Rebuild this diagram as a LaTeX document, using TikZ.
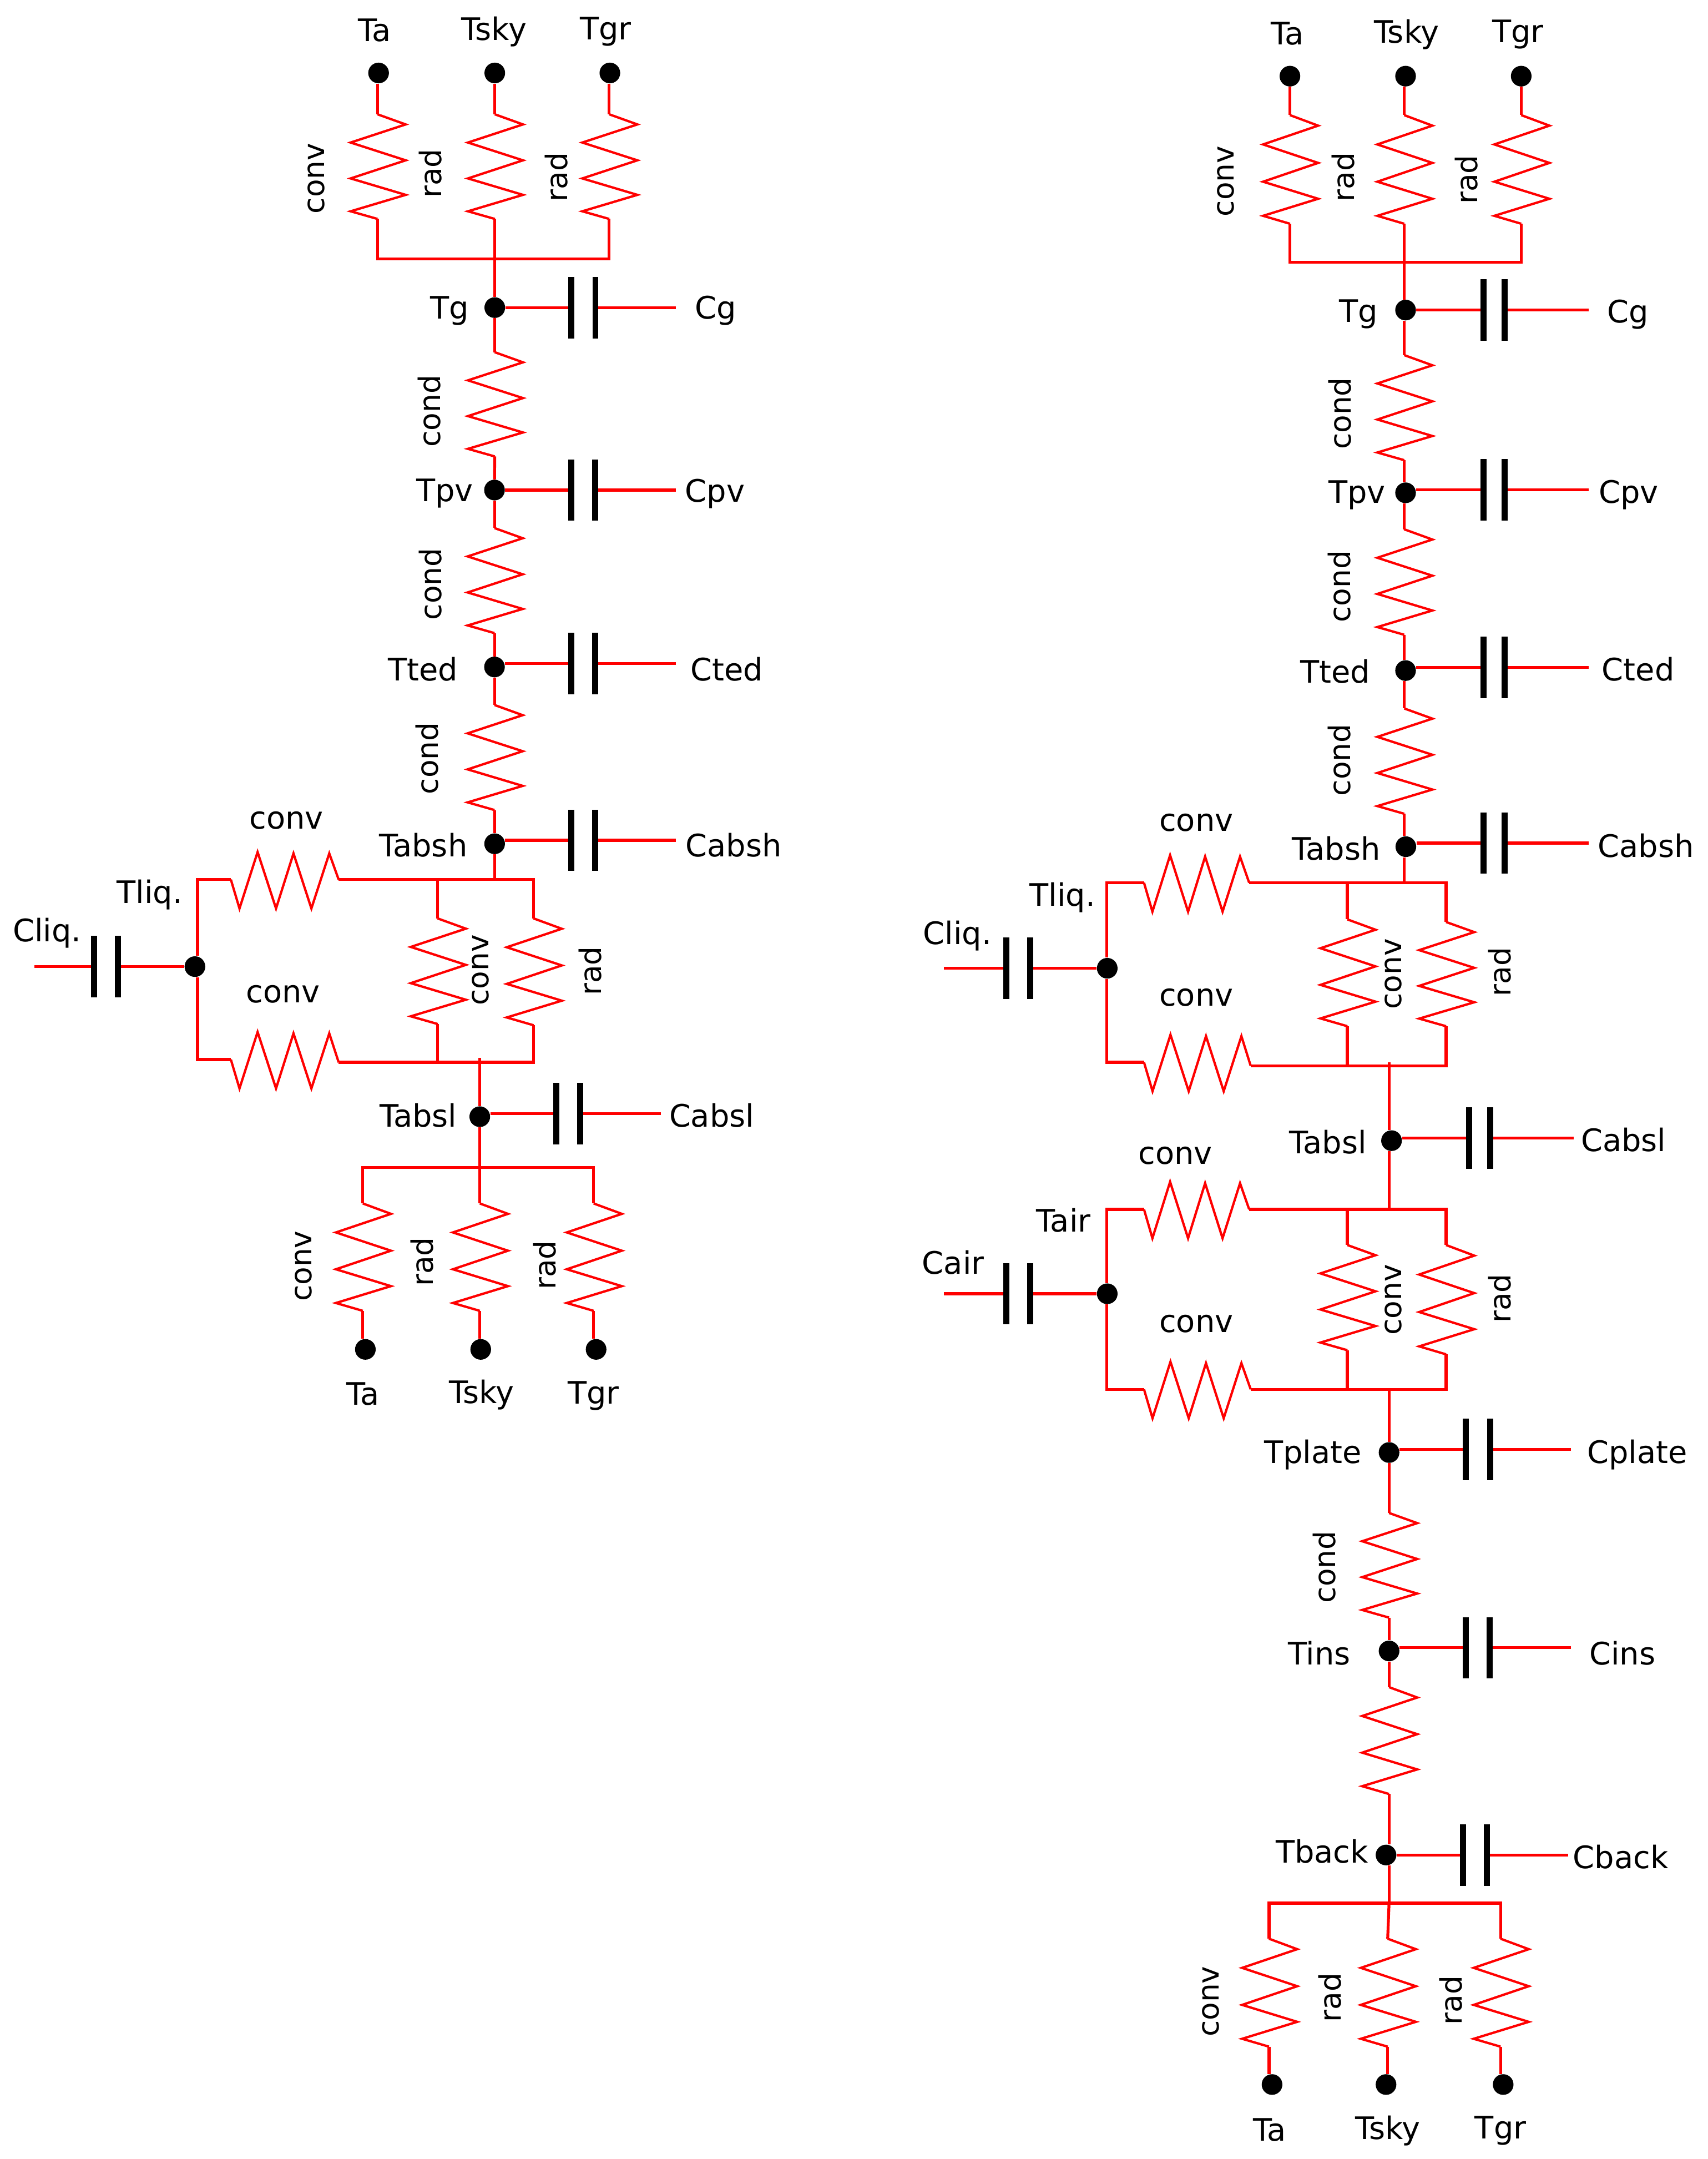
\documentclass[tikz,border=0pt]{standalone}
\usepackage{fontspec}
\setmainfont{DejaVu Sans}
\usetikzlibrary{calc}
\definecolor{wirered}{RGB}{255,0,0}
\tikzset{
  wire/.style={draw=wirered,line width=2.1pt,line join=miter},
  zig/.style={draw=wirered,line width=1.7pt,line join=miter},
  plate/.style={draw=black,line width=4.4pt},
  dot/.style={circle,fill=black,inner sep=0pt,minimum size=15pt},
  lab/.style={inner sep=0pt,outer sep=0pt,font=\fontsize{22.5}{24}\selectfont,text=black},
  vlab/.style={inner sep=0pt,outer sep=0pt,font=\fontsize{21.5}{24}\selectfont,text=black,rotate=90}
}
% vertical resistor: name, x, y top, y bottom
\newcommand{\resv}[4]{%
  \coordinate (#1-a) at (#2,#3);
  \coordinate (#1-b) at (#2,#4);
  \draw[zig] (#1-a)
    -- ({#2+20.5},{#3+.097*(#4-#3)})
    -- ({#2-19.5},{#3+.27*(#4-#3)})
    -- ({#2+20.5},{#3+.44*(#4-#3)})
    -- ({#2-19.5},{#3+.613*(#4-#3)})
    -- ({#2+20.5},{#3+.77*(#4-#3)})
    -- ({#2-19.5},{#3+.927*(#4-#3)})
    -- (#1-b);}
% horizontal resistor: name, x start, x end, y start, y end
\newcommand{\resh}[5]{%
  \coordinate (#1-a) at (#2,#4);
  \coordinate (#1-b) at (#3,#5);
  \draw[zig] (#1-a)
    -- ({#2+.08*(#3-#2)},{#4+21})
    -- ({#2+.248*(#3-#2)},{#4-20})
    -- ({#2+.419*(#3-#2)},{#4+21})
    -- ({#2+.581*(#3-#2)},{#4-19})
    -- ({#2+.747*(#3-#2)},{#4+21})
    -- ({#2+.913*(#3-#2)},{#4-19})
    -- (#1-b);}
% capacitor: name, dot anchor, near plate x, far plate x, wire y, free end x
\newcommand{\capac}[6]{%
  \coordinate (#1-n) at (#3,#5);
  \coordinate (#1-f) at (#4,#5);
  \coordinate (#1-e) at (#6,#5);
  \draw[wire] (#2 |- #1-n) -- (#1-n);
  \draw[wire] (#1-f) -- (#1-e);
  \draw[plate] (#3,{#5-22.3}) -- (#3,{#5+22.3});
  \draw[plate] (#4,{#5-22.3}) -- (#4,{#5+22.3});}
\begin{document}
\begin{tikzpicture}[x=1pt,y=-1pt]
\useasboundingbox (0,0) rectangle (1240.3,1568);
\fill[white] (0,0) rectangle (1240.3,1568);

%%%%%%%%%%%%%% LEFT COLUMN
\foreach \n/\x/\y in {lTa/275/53,lTsky/359.4/53,lTgr/443/53,lTg/359.4/223.4,lTpv/359.2/355.9,lTted/359.2/484.4,lTabsh/359.3/612.8,lTliq/141.6/702,lTabsl/348.5/811,lBa/265.4/980,lBsky/349.2/980,lBgr/433/980}
  \node[dot] (\n) at (\x,\y) {};

\resv{lr1}{274.2}{83}{159}
\resv{lr2}{359.4}{83}{159}
\resv{lr3}{442.5}{83}{159}
\resv{lr4}{359.4}{255.8}{331.5}
\resv{lr5}{359.2}{383.5}{459.8}
\resv{lr6}{359.2}{512}{588.3}
\resv{lr7}{317.9}{667}{743.7}
\resv{lr8}{387.6}{667}{744.6}
\resv{lr9}{263.5}{874}{952}
\resv{lr10}{348.5}{874}{952}
\resv{lr11}{431.2}{874}{952}
\resh{lh1}{167.7}{246}{638.8}{638.8}
\resh{lh2}{167.7}{246}{769.5}{771.5}

\coordinate (lb1) at (359.4,188);
\coordinate (lb2) at (359.3,638.8);
\coordinate (lb3) at (387.6,638.8);
\coordinate (lc1) at (143.5,638.8);
\coordinate (lc2) at (143.5,769.5);
\coordinate (lb4) at (317.9,638.8);
\coordinate (lb5) at (317.9,771.5);
\coordinate (lb6) at (387.6,771.5);
\coordinate (ls1) at (348.5,768.4);
\coordinate (lb7) at (348.5,848);

\draw[wire] (lr1-a |- lTa.south) -- (lr1-a);
\draw[wire] (lr2-a |- lTsky.south) -- (lr2-a);
\draw[wire] (lr3-a |- lTgr.south) -- (lr3-a);
\draw[wire] (lr1-b) |- (lb1) -| (lr3-b);
\draw[wire] (lr2-b) -- (lTg.north);
\draw[wire] (lTg.south) -- (lr4-a);
\draw[wire] (lr4-b) -- (lTpv.north);
\draw[wire] (lTpv.south) -- (lr5-a);
\draw[wire] (lr5-b) -- (lTted.north);
\draw[wire] (lTted.south) -- (lr6-a);
\draw[wire] (lr6-b) -- (lTabsh.north);
\draw[wire] (lTabsh.south) -- (lb2);
\draw[wire] (lh1-b) -- (lb3) -- (lr8-a);
\draw[wire] (lb4) -- (lr7-a);
\draw[wire] (lr7-b) -- (lb5);
\draw[wire] (lr8-b) -- (lb6) -- (lh2-b);
\draw[wire] (lh1-a) -- (lc1) -- (lc1 |- lTliq.north);
\draw[wire] (lc2 |- lTliq.south) -- (lc2) -- (lh2-a);
\draw[wire] (ls1) -- (lTabsl.north);
\draw[wire] (lTabsl.south) -- (lb7);
\draw[wire] (lr9-a) |- (lb7) -| (lr11-a);
\draw[wire] (lb7) -- (lr10-a);
\draw[wire] (lr9-b) -- (lr9-b |- lBa.north);
\draw[wire] (lr10-b) -- (lr10-b |- lBsky.north);
\draw[wire] (lr11-b) -- (lr11-b |- lBgr.north);

\capac{lc-g}{lTg.east}{415}{432.5}{223.4}{491}
\capac{lc-pv}{lTpv.east}{415}{432.2}{355.9}{491}
\capac{lc-ted}{lTted.east}{415}{432.2}{482}{491}
\capac{lc-absh}{lTabsh.east}{415}{432.2}{610.3}{491}
\capac{lc-absl}{lTabsl.east}{404}{421.5}{808.8}{480}
\capac{lc-liq}{lTliq.west}{85.7}{68.2}{702}{25}

\node[lab] (ltTa) at (272,22) {Ta};
\node[lab] (ltTsky) at (359,23) {Tsky};
\node[lab] (ltTgr) at (440,23) {Tgr};
\node[vlab] (ltc1) at (229.7,129.6) {conv};
\node[vlab] (ltr1) at (312.6,126) {rad};
\node[vlab] (ltr2) at (404,128.5) {rad};
\node[lab] (ltTg) at (326.5,225.7) {Tg};
\node[lab] (ltCg) at (520,225.7) {Cg};
\node[vlab] (ltd1) at (312,298.6) {cond};
\node[lab] (ltTpv) at (323,358.4) {Tpv};
\node[lab] (ltCpv) at (519.4,358.4) {Cpv};
\node[vlab] (ltd2) at (312.7,424.2) {cond};
\node[lab] (ltTted) at (307.2,485.9) {Tted};
\node[lab] (ltCted) at (528,485.9) {Cted};
\node[vlab] (ltd3) at (310.3,550.7) {cond};
\node[lab] (ltTabsh) at (307.5,613.6) {Tabsh};
\node[lab] (ltCabsh) at (533,613.6) {Cabsh};
\node[lab] (ltc2) at (208,595.7) {conv};
\node[lab] (ltTliq) at (108.8,649.7) {Tliq.};
\node[lab] (ltCliq) at (34.3,677.8) {Cliq.};
\node[lab] (ltc3) at (205.7,722) {conv};
\node[vlab] (ltc4) at (349.2,704.6) {conv};
\node[vlab] (ltr3) at (428.6,705.2) {rad};
\node[lab] (ltTabsl) at (303.8,810) {Tabsl};
\node[lab] (ltCabsl) at (517,810) {Cabsl};
\node[vlab] (ltc5) at (220.6,919.5) {conv};
\node[vlab] (ltr4) at (306.4,916.4) {rad};
\node[vlab] (ltr5) at (395.8,918.8) {rad};
\node[lab] (ltBa) at (263.5,1012.3) {Ta};
\node[lab] (ltBsky) at (350,1013) {Tsky};
\node[lab] (ltBgr) at (431,1013.8) {Tgr};

%%%%%%%%%%%%%% RIGHT COLUMN
\foreach \n/\x/\y in {rTa/937/55.3,rTsky/1021/55.3,rTgr/1105/55.3,rTg/1021/225.2,rTpv/1021/357.9,rTted/1021/487,rTabsh/1021.2/614.9,rTliq/804.3/703.2,rTabsl/1010.8/828.4,rTair/804.3/939.6,rTplate/1009/1054.9,rTins/1009/1199,rTback/1006.8/1347.2,rBa/924/1513.9,rBsky/1006.8/1513.9,rBgr/1091.9/1513.9}
  \node[dot] (\n) at (\x,\y) {};

\resv{rr1}{937}{83.6}{162.5}
\resv{rr2}{1020}{83.6}{162.5}
\resv{rr3}{1105}{83.6}{162.5}
\resv{rr4}{1020}{257.9}{334.2}
\resv{rr5}{1020}{384.4}{461}
\resv{rr6}{1020}{514.5}{591}
\resv{rr7}{978.7}{667.7}{745.3}
\resv{rr8}{1050.4}{669.6}{745.3}
\resv{rr9}{978.7}{904.2}{980.6}
\resv{rr10}{1050.4}{904.2}{983.6}
\resv{rr11}{1009}{1098.8}{1174.8}
\resv{rr12}{1009}{1225.3}{1302.9}
\resv{rr13}{921.8}{1408}{1486.4}
\resv{rr14}{1008}{1408}{1486.4}
\resv{rr15}{1090}{1408}{1486.4}
\resh{rh1}{831}{907.4}{641.1}{641.1}
\resh{rh2}{831}{908.5}{771.5}{774.1}
\resh{rh3}{831}{907.4}{878.3}{878.3}
\resh{rh4}{831}{908.5}{1009}{1009}

\coordinate (rb1) at (1020,190.3);
\coordinate (rb2) at (1020,641.1);
\coordinate (rb3) at (1050.4,641.1);
\coordinate (rb4) at (978.7,641.1);
\coordinate (rb5) at (978.7,774.1);
\coordinate (rb6) at (1050.4,774.1);
\coordinate (rc1) at (804,641.1);
\coordinate (rc2) at (804,771.5);
\coordinate (rs1) at (1009,771.5);
\coordinate (rs2) at (1009,878.3);
\coordinate (rb7) at (1050.4,878.3);
\coordinate (rb8) at (978.7,878.3);
\coordinate (rb9) at (978.7,1009);
\coordinate (rb10) at (1050.4,1009);
\coordinate (rc3) at (804,878.3);
\coordinate (rc4) at (804,1009);
\coordinate (rs3) at (1009,1009);
\coordinate (rs4) at (1009,1382.2);

\draw[wire] (rr1-a |- rTa.south) -- (rr1-a);
\draw[wire] (rr2-a |- rTsky.south) -- (rr2-a);
\draw[wire] (rr3-a |- rTgr.south) -- (rr3-a);
\draw[wire] (rr1-b) |- (rb1) -| (rr3-b);
\draw[wire] (rr2-b) -- (rr2-b |- rTg.north);
\draw[wire] (rr4-a |- rTg.south) -- (rr4-a);
\draw[wire] (rr4-b) -- (rr4-b |- rTpv.north);
\draw[wire] (rr5-a |- rTpv.south) -- (rr5-a);
\draw[wire] (rr5-b) -- (rr5-b |- rTted.north);
\draw[wire] (rr6-a |- rTted.south) -- (rr6-a);
\draw[wire] (rr6-b) -- (rr6-b |- rTabsh.north);
\draw[wire] (rb2 |- rTabsh.south) -- (rb2);
\draw[wire] (rh1-b) -- (rb3) -- (rr8-a);
\draw[wire] (rb4) -- (rr7-a);
\draw[wire] (rr7-b) -- (rb5);
\draw[wire] (rr8-b) -- (rb6) -- (rh2-b);
\draw[wire] (rh1-a) -- (rc1) -- (rc1 |- rTliq.north);
\draw[wire] (rc2 |- rTliq.south) -- (rc2) -- (rh2-a);
\draw[wire] (rs1) -- (rs1 |- rTabsl.north);
\draw[wire] (rs1 |- rTabsl.south) -- (rs2);
\draw[wire] (rh3-b) -- (rb7) -- (rr10-a);
\draw[wire] (rb8) -- (rr9-a);
\draw[wire] (rr9-b) -- (rb9);
\draw[wire] (rr10-b) -- (rb10) -- (rh4-b);
\draw[wire] (rh3-a) -- (rc3) -- (rc3 |- rTair.north);
\draw[wire] (rc4 |- rTair.south) -- (rc4) -- (rh4-a);
\draw[wire] (rs3) -- (rTplate.north);
\draw[wire] (rTplate.south) -- (rr11-a);
\draw[wire] (rr11-b) -- (rTins.north);
\draw[wire] (rTins.south) -- (rr12-a);
\draw[wire] (rr12-b) -- (rr12-b |- rTback.north);
\draw[wire] (rs4 |- rTback.south) -- (rs4);
\draw[wire] (rr13-a) |- (rs4) -| (rr15-a);
\draw[wire] (rs4) -- (rr14-a);
\draw[wire] (rr13-b) -- (rr13-b |- rBa.north);
\draw[wire] (rr14-b) -- (rr14-b |- rBsky.north);
\draw[wire] (rr15-b) -- (rr15-b |- rBgr.north);

\capac{rc-g}{rTg.east}{1077.8}{1093}{225.2}{1154}
\capac{rc-pv}{rTpv.east}{1077.8}{1093}{355.8}{1154}
\capac{rc-ted}{rTted.east}{1077.8}{1093}{484.8}{1154}
\capac{rc-absh}{rTabsh.east}{1077.8}{1093}{612.3}{1154}
\capac{rc-absl}{rTabsl.east}{1067}{1082.5}{826.6}{1143}
\capac{rc-plate}{rTplate.east}{1064.8}{1082.5}{1052.7}{1141.2}
\capac{rc-ins}{rTins.east}{1064.7}{1082.2}{1196.7}{1141.2}
\capac{rc-back}{rTback.east}{1062.8}{1080}{1347.2}{1139}
\capac{rc-liq}{rTliq.west}{748.2}{730.8}{703.2}{685.7}
\capac{rc-air}{rTair.west}{748.2}{730.8}{939.6}{685.7}

\node[lab] (rtTa) at (935,24.4) {Ta};
\node[lab] (rtTsky) at (1021.7,25) {Tsky};
\node[lab] (rtTgr) at (1102.6,25) {Tgr};
\node[vlab] (rtc1) at (890.4,131.6) {conv};
\node[vlab] (rtr1) at (975.8,128.6) {rad};
\node[vlab] (rtr2) at (1065,130.4) {rad};
\node[lab] (rtTg) at (987,228.3) {Tg};
\node[lab] (rtCg) at (1182.5,228.3) {Cg};
\node[vlab] (rtd1) at (973.3,300.3) {cond};
\node[lab] (rtTpv) at (985.8,359.4) {Tpv};
\node[lab] (rtCpv) at (1183,359.4) {Cpv};
\node[vlab] (rtd2) at (973,426) {cond};
\node[lab] (rtTted) at (970,487.5) {Tted};
\node[lab] (rtCted) at (1190,486) {Cted};
\node[vlab] (rtd3) at (973,552) {cond};
\node[lab] (rtTabsh) at (970.6,616) {Tabsh};
\node[lab] (rtCabsh) at (1195.5,614.2) {Cabsh};
\node[lab] (rtc2) at (869,597.5) {conv};
\node[lab] (rtTliq) at (771.8,651.8) {Tliq.};
\node[lab] (rtCliq) at (695.4,679.5) {Cliq.};
\node[lab] (rtc3) at (869,724.3) {conv};
\node[vlab] (rtc4) at (1012,707.3) {conv};
\node[vlab] (rtr3) at (1089.5,705.8) {rad};
\node[lab] (rtTabsl) at (964.6,829.5) {Tabsl};
\node[lab] (rtCabsl) at (1179.3,827.7) {Cabsl};
\node[lab] (rtc5) at (853.8,839.5) {conv};
\node[lab] (rtTair) at (772.6,886.4) {Tair};
\node[lab] (rtCair) at (692.4,917) {Cair};
\node[lab] (rtc6) at (869,961.4) {conv};
\node[vlab] (rtc7) at (1012,944) {conv};
\node[vlab] (rtr4) at (1089.5,943) {rad};
\node[lab] (rtTplate) at (953.6,1056.7) {Tplate};
\node[lab] (rtCplate) at (1189.2,1056.7) {Cplate};
\node[vlab] (rtd4) at (962,1138) {cond};
\node[lab] (rtTins) at (958.4,1200.6) {Tins};
\node[lab] (rtCins) at (1178.5,1200.6) {Cins};
\node[lab] (rtTback) at (960.3,1344.4) {Tback};
\node[lab] (rtCback) at (1177.2,1348.6) {Cback};
\node[vlab] (rtc8) at (879.5,1453.6) {conv};
\node[vlab] (rtr5) at (965.9,1450.8) {rad};
\node[vlab] (rtr6) at (1053.9,1452.8) {rad};
\node[lab] (rtBa) at (922.4,1546.7) {Ta};
\node[lab] (rtBsky) at (1008.2,1547.5) {Tsky};
\node[lab] (rtBgr) at (1090,1547.5) {Tgr};
\end{tikzpicture}
\end{document}
